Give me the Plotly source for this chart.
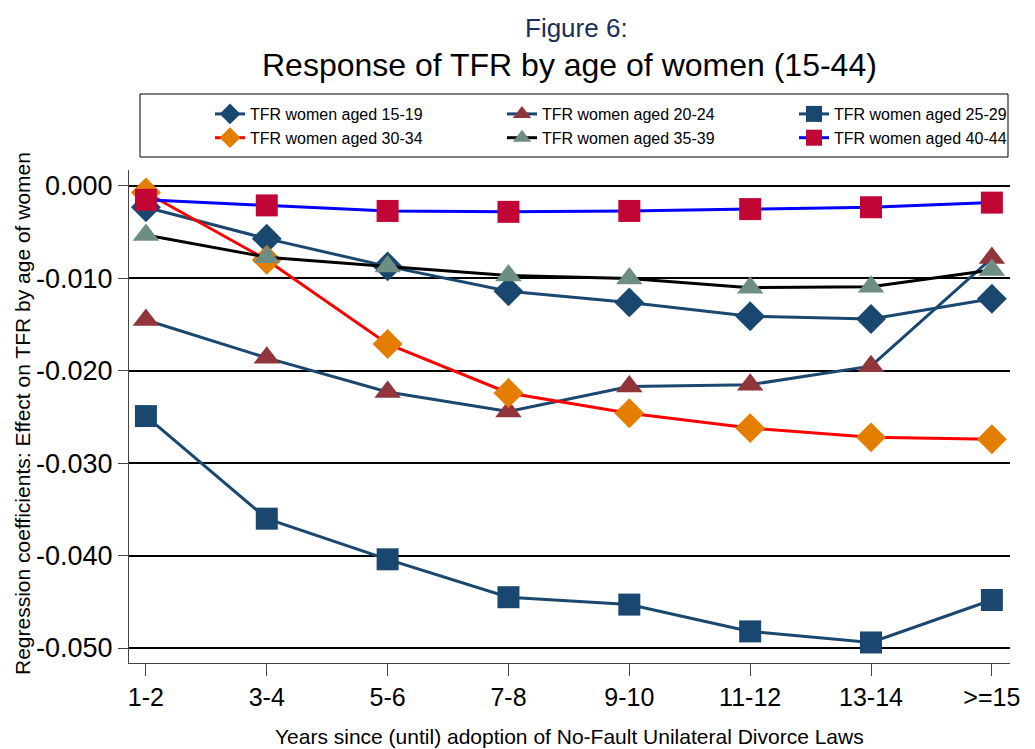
import plotly.graph_objects as go

categories = ["1-2", "3-4", "5-6", "7-8", "9-10", "11-12", "13-14", ">=15"]
tfr_15_19 = [-0.0023, -0.0057, -0.0087, -0.0114, -0.0126, -0.0141, -0.0144, -0.0122]
tfr_20_24 = [-0.0145, -0.0186, -0.0223, -0.0244, -0.0217, -0.0215, -0.0195, -0.0078]
tfr_25_29 = [-0.0249, -0.0360, -0.0404, -0.0445, -0.0453, -0.0482, -0.0494, -0.0448]
tfr_30_34 = [-0.0007, -0.0080, -0.0171, -0.0224, -0.0246, -0.0262, -0.0272, -0.0274]
tfr_35_39 = [-0.0053, -0.0077, -0.0087, -0.0097, -0.0100, -0.0110, -0.0109, -0.0091]
tfr_40_44 = [-0.0015, -0.0021, -0.0027, -0.0028, -0.0027, -0.0025, -0.0023, -0.0018]
y_tickvals = [0.0, -0.01, -0.02, -0.03, -0.04, -0.05]
y_ticktext = ["0.000", "-0.010", "-0.020", "-0.030", "-0.040", "-0.050"]

series = [
    ("TFR women aged 15-19", tfr_15_19, "#1a476f", "#1a476f", "diamond"),
    ("TFR women aged 20-24", tfr_20_24, "#1a476f", "#90353b", "triangle-up"),
    ("TFR women aged 25-29", tfr_25_29, "#1a476f", "#1a476f", "square"),
    ("TFR women aged 30-34", tfr_30_34, "#ff0000", "#e37e00", "diamond"),
    ("TFR women aged 35-39", tfr_35_39, "#000000", "#6e8e84", "triangle-up"),
    ("TFR women aged 40-44", tfr_40_44, "#0000ff", "#c10534", "square"),
]
marker_sizes = {"diamond": 23, "triangle-up": 23, "square": 22}

FONT = "Liberation Sans, Arial, Helvetica, sans-serif"
# the page body adds an 8px offset; size the figure so it ends at the window edge
OFF = 8
W, H = 1035 - OFF, 749 - OFF
ML, MR, MT, MB = 129 - OFF, 25, 170 - OFF, 86
plot_h = H - MT - MB
plot_w = W - ML - MR


def py(ref_y):
    return (H - MB - (ref_y - OFF)) / plot_h


def px(ref_x):
    return ((ref_x - OFF) - ML) / plot_w


fig = go.Figure()
for name, vals, lcol, mcol, sym in series:
    fig.add_trace(go.Scatter(
        x=categories, y=vals, name=name, mode="lines+markers",
        line=dict(color=lcol, width=3),
        marker=dict(symbol=sym, size=marker_sizes[sym], color=mcol, line=dict(width=0)),
    ))

fig.update_layout(
    width=W, height=H,
    paper_bgcolor="white", plot_bgcolor="white",
    font=dict(family=FONT, color="black"),
    margin=dict(l=ML, r=MR, t=MT, b=MB, autoexpand=False),
    showlegend=True,
    legend=dict(
        orientation="h", xref="container", yref="container",
        x=(210 - OFF) / W, xanchor="left", y=1 - (97 - OFF) / H, yanchor="top",
        borderwidth=0, bgcolor="rgba(0,0,0,0)",
        font=dict(size=16, family=FONT), entrywidth=247, entrywidthmode="pixels",
        traceorder="normal", itemsizing="trace",
    ),
    shapes=[
        dict(type="rect", xref="paper", yref="paper",
             x0=px(140), x1=px(1008), y0=py(157), y1=py(94),
             line=dict(color="black", width=1), fillcolor="rgba(0,0,0,0)", layer="below"),
    ],
    annotations=[
        dict(text="Figure 6:", x=px(576), y=py(28), xref="paper", yref="paper", showarrow=False,
             xanchor="center", yanchor="middle", font=dict(size=26, color="#1a2e5a", family=FONT)),
        dict(text="Response of TFR by age of women (15-44)", x=0.5, y=py(65), xref="paper",
             yref="paper", showarrow=False, yanchor="middle",
             font=dict(size=32, color="black", family=FONT)),
        dict(text="Years since (until) adoption of No-Fault Unilateral Divorce Laws",
             x=0.5, y=py(736), xref="paper", yref="paper", showarrow=False, yanchor="middle",
             font=dict(size=21, color="black", family=FONT)),
        dict(text="Regression coefficients: Effect on TFR by age of women",
             x=px(22), y=py(414), xref="paper", yref="paper", showarrow=False, textangle=-90,
             xanchor="center", yanchor="middle",
             font=dict(size=21, color="black", family=FONT)),
    ],
)

fig.update_xaxes(
    type="category", range=[-0.14, 7.15],
    showline=True, linecolor="#444444", linewidth=1,
    ticks="outside", ticklen=12, tickcolor="#444444", tickwidth=1,
    tickfont=dict(size=25, family=FONT), showgrid=False, zeroline=False,
)
fig.update_yaxes(
    range=[-0.05162, 0.00173],
    tickvals=y_tickvals, ticktext=y_ticktext,
    showline=True, linecolor="#444444", linewidth=1,
    ticks="outside", ticklen=10, tickcolor="#444444", tickwidth=1,
    tickfont=dict(size=27, family=FONT),
    showgrid=True, gridcolor="black", gridwidth=2, zeroline=False,
)

fig.write_html("out.html")
